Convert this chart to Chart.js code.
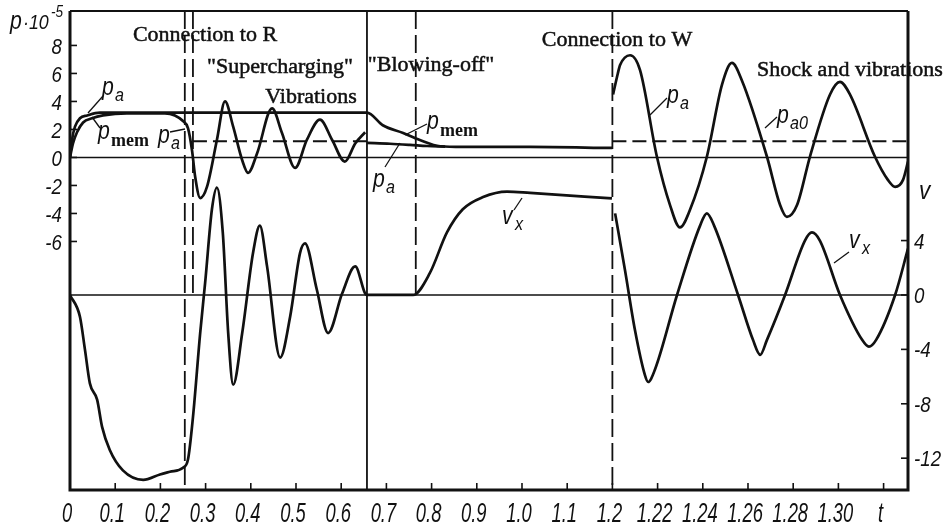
<!DOCTYPE html>
<html>
<head>
<meta charset="utf-8">
<script src="https://cdn.jsdelivr.net/npm/chart.js@4.4.1/dist/chart.umd.min.js"></script>
<style>
    html, body { margin: 0; padding: 0; background: #fff; }
</style>
</head>
<body>
<canvas id="chart" width="947" height="531"></canvas>
<script>
// time axis: 0..1.2 in steps of 0.1, then stretched 1.2..1.32 in steps of 0.02
const tickT = [0, 0.1, 0.2, 0.3, 0.4, 0.5, 0.6, 0.7, 0.8, 0.9, 1.0, 1.1, 1.2, 1.22, 1.24, 1.26, 1.28, 1.30, 1.32];
const tickLabels = ["0", "0.1", "0.2", "0.3", "0.4", "0.5", "0.6", "0.7", "0.8", "0.9", "1.0", "1.1", "1.2", "1.22", "1.24", "1.26", "1.28", "1.30", "t"];
const pTicks = [8, 6, 4, 2, 0, -2, -4, -6];
const vTicks = [4, 0, -4, -8, -12];

// upper pressure curve (p_mem), p*10^-5
const pMemT = [0, 0.0044, 0.011, 0.022, 0.038, 0.066, 0.657, 0.692, 0.737, 0.774, 0.819, 0.869, 1.018, 1.2];
const pMemP = [0, 1.25, 2.2, 2.8, 3.0, 3.2, 3.2, 2.3, 1.75, 1.25, 0.8, 0.75, 0.75, 0.68];

// pressure p_a (rise, supercharging vibrations, blowing-off, shock)
const pAT = [0, 0.0066, 0.0155, 0.029, 0.049, 0.073, 0.126, 0.21, 0.232, 0.25, 0.261, 0.27, 0.277, 0.288,
    0.303, 0.325, 0.343, 0.361, 0.381, 0.394, 0.414, 0.447, 0.469, 0.498, 0.524, 0.553, 0.58, 0.608, 0.631, 0.653,
    0.655,
    0.657, 0.708, 0.752, 0.79, 0.83,
    1.1,
    1.2003, 1.2024, 1.2034, 1.2078, 1.2122, 1.2197, 1.2255, 1.2299, 1.2343, 1.2418, 1.2485, 1.2529, 1.2573,
    1.2684, 1.2742, 1.2772, 1.2817, 1.2874, 1.2963, 1.3007, 1.3051, 1.3162, 1.3219, 1.3251, 1.3286, 1.3308];
const pAP = [0, 1.0, 1.8, 2.5, 2.8, 3.0, 3.15, 3.15, 3.0, 2.6, 2.1, 0.5, -1.4, -2.9,
    -2.1, 1.25, 4.0, 2.2, -0.2, -1.1, 0.3, 3.5, 1.75, -0.75, 1.25, 2.7, 1.25, -0.3, 1.0, 1.8,
    null,
    1.04, 0.98, 0.9, 0.82, 0.77,
    null,
    4.5, 6.0, 6.6, 7.3, 6.25, 0.05, -3.4, -5.0, -3.75, 0.05, 5.2, 6.75, 5.5,
    0.05, -3.4, -4.25, -3.4, 0.05, 4.5, 5.4, 4.5, 0.05, -1.6, -2.1, -1.6, -0.3];

// mean level p_a0 (dashed)
const pA0T = [0.272, 0.657, 0.9, 1.2, 1.3308];
const pA0P = [1.15, 1.15, null, 1.15, 1.15];

// velocity v_x
const vT = [0, 0.022, 0.033, 0.044, 0.06, 0.071, 0.088, 0.117, 0.162, 0.199, 0.221, 0.25, 0.261, 0.272, 0.288,
    0.299, 0.314, 0.325, 0.338, 0.35, 0.361, 0.381, 0.405, 0.42, 0.436, 0.465, 0.487, 0.509, 0.52, 0.546, 0.571,
    0.602, 0.631, 0.653, 0.657, 0.759, 0.796, 0.834, 0.869, 0.914, 0.967, 1.018, 1.199,
    1.2,
    1.2012, 1.2056, 1.21, 1.2144, 1.2158, 1.2188, 1.2286, 1.2388, 1.2418, 1.245, 1.2556, 1.2622, 1.2654, 1.2684,
    1.2764, 1.2852, 1.2883, 1.2918, 1.3007, 1.3105, 1.3135, 1.3167, 1.3251, 1.3308];
const vV = [0, -1.6, -4.0, -6.5, -7.7, -9.7, -11.4, -12.9, -13.6, -13.2, -13.0, -12.7, -12.1, -9.0, -2.8,
    0.9, 6.3, 7.9, 4.6, -2.8, -6.6, -2.8, 3.1, 5.1, 2.1, -4.6, -1.6, 3.1, 3.8, 0.4, -2.8,
    0.1, 2.1, 0.1, 0, 0, 1.6, 4.6, 6.3, 7.2, 7.6, 7.5, 7.1,
    null,
    6.0, 1.8, -2.6, -5.9, -6.4, -5.5, 0, 5.1, 6.0, 5.1, 0, -3.3, -4.4, -3.3,
    0, 4.0, 4.6, 4.0, 0, -3.3, -3.8, -3.3, 0, 3.4];

// phase boundaries: connection to R, supercharging, blowing-off, return, connection to W
const phaseT = [0.254, 0.272, 0.657, 0.765, 1.2];

const ink = "#111";
const sans = "'Liberation Sans', Arimo, Arial, sans-serif";
const serif = "'Liberation Serif', 'DejaVu Serif', serif";

// position on the drawn time axis (the last part is stretched x5)
function pos(t) {
    return t <= 1.2 ? t * 10 : 12 + (t - 1.2) * 50;
}
function series(ts, ys) {
    return ts.map((t, i) => ({ x: pos(t), y: ys[i] }));
}

const phaseStyle = [
    { dash: [18, 6], toV0: false },
    { dash: [18, 6], toV0: true },
    { dash: [], toV0: false },
    { dash: [18, 6], toV0: true },
    { dash: [18, 6], toV0: false },
];

const headings = [
    { s: "Connection to R", x: 205, y: 35 },
    { s: "\"Supercharging\"", x: 280, y: 67 },
    { s: "Vibrations", x: 311, y: 97 },
    { s: "\"Blowing-off\"", x: 431, y: 65 },
    { s: "Connection to W", x: 617, y: 40 },
    { s: "Shock and vibrations", x: 850, y: 70 },
];

const symbols = [
    { b: "p", s: "a", x: 102, y: 95 },
    { b: "p", s: "mem", x: 98, y: 139 },
    { b: "p", s: "a", x: 158, y: 143 },
    { b: "p", s: "mem", x: 427, y: 129 },
    { b: "p", s: "a", x: 373, y: 187 },
    { b: "v", s: "x", x: 502, y: 224 },
    { b: "p", s: "a", x: 667, y: 103 },
    { b: "p", s: "a0", x: 777, y: 123 },
    { b: "v", s: "x", x: 849, y: 248 },
];

const leaders = [
    [88, 113, 103, 96], [92, 117, 100, 128], [170, 132, 185, 129], [405, 135, 427, 124],
    [385, 167, 400, 143], [514, 210, 522, 198], [650, 115, 667, 98], [765, 128, 777, 117], [834, 263, 849, 252],
];

// condensed italic text, like the drafting font of the original
function narrowText(ctx, text, x, y, size, sx, align) {
    ctx.save();
    ctx.font = "italic " + size + "px " + sans;
    ctx.textAlign = align;
    ctx.textBaseline = "alphabetic";
    ctx.translate(x, y);
    ctx.scale(sx, 1);
    ctx.fillText(text, 0, 0);
    ctx.restore();
}

const decor = {
    id: "decor",
    beforeDatasetsDraw(chart) {
        const { ctx, chartArea: a, scales } = chart;
        ctx.save();
        ctx.strokeStyle = ink;
        ctx.lineWidth = 1.6;
        [scales.p.getPixelForValue(0), scales.v.getPixelForValue(0)].forEach((y) => {
            ctx.beginPath();
            ctx.moveTo(a.left, y);
            ctx.lineTo(a.right, y);
            ctx.stroke();
        });
        phaseT.forEach((t, i) => {
            const x = scales.x.getPixelForValue(pos(t));
            const st = phaseStyle[i];
            ctx.setLineDash(st.dash);
            ctx.lineWidth = 1.8;
            ctx.beginPath();
            ctx.moveTo(x, a.top);
            ctx.lineTo(x, st.toV0 ? scales.v.getPixelForValue(0) : a.bottom);
            ctx.stroke();
        });
        ctx.restore();
    },
    afterDatasetsDraw(chart) {
        const { ctx, chartArea: a, scales } = chart;
        ctx.save();
        ctx.strokeStyle = ink;
        ctx.fillStyle = ink;

        // frame
        ctx.lineWidth = 2;
        ctx.beginPath();
        ctx.moveTo(a.left, a.top);
        ctx.lineTo(a.right, a.top);
        ctx.stroke();
        ctx.lineWidth = 3;
        ctx.beginPath();
        ctx.moveTo(a.left, a.top);
        ctx.lineTo(a.left, a.bottom);
        ctx.lineTo(a.right, a.bottom);
        ctx.lineTo(a.right, a.top);
        ctx.stroke();

        // inward tick marks and labels
        ctx.lineWidth = 1.6;
        scales.x.ticks.forEach((tk, i) => {
            const x = scales.x.getPixelForValue(tk.value);
            ctx.beginPath();
            ctx.moveTo(x, a.bottom);
            ctx.lineTo(x, a.bottom - 7);
            ctx.stroke();
            narrowText(ctx, tickLabels[i], x - 3, a.bottom + 32, 27, 0.68, "center");
        });
        scales.p.ticks.forEach((tk) => {
            const y = scales.p.getPixelForValue(tk.value);
            ctx.beginPath();
            ctx.moveTo(a.left, y);
            ctx.lineTo(a.left + 7, y);
            ctx.stroke();
            narrowText(ctx, String(tk.value), a.left - 8, y + 9, 22, 0.85, "right");
        });
        scales.v.ticks.forEach((tk) => {
            const y = scales.v.getPixelForValue(tk.value);
            ctx.beginPath();
            ctx.moveTo(a.right - 7, y);
            ctx.lineTo(a.right, y);
            ctx.stroke();
            narrowText(ctx, String(tk.value), a.right + 6, y + 8, 22, 0.85, "left");
        });

        // leader lines
        ctx.lineWidth = 1.3;
        leaders.forEach(([x1, y1, x2, y2]) => {
            ctx.beginPath();
            ctx.moveTo(x1, y1);
            ctx.lineTo(x2, y2);
            ctx.stroke();
        });

        // phase headings
        ctx.font = "22px " + serif;
        ctx.textAlign = "center";
        ctx.textBaseline = "middle";
        ctx.lineWidth = 0.5;
        headings.forEach((h) => {
            ctx.fillText(h.s, h.x, h.y);
            ctx.strokeText(h.s, h.x, h.y);
        });

        // curve symbols with subscripts
        ctx.textAlign = "left";
        ctx.textBaseline = "alphabetic";
        symbols.forEach((sy) => {
            narrowText(ctx, sy.b, sy.x, sy.y, 25, 0.85, "left");
            const w = 12;
            if (sy.s === "mem") {
                ctx.font = "bold 18px " + serif;
                ctx.fillText(sy.s, sy.x + w + 1, sy.y + 7);
            } else {
                narrowText(ctx, sy.s, sy.x + w + 1, sy.y + 6, 19, 0.85, "left");
            }
        });

        // axis titles
        narrowText(ctx, "p", 10, 29, 25, 0.85, "left");
        narrowText(ctx, "\u00b710", 23, 29, 21, 0.85, "left");
        narrowText(ctx, "-5", 51, 17, 16, 0.85, "left");
        narrowText(ctx, "v", 919, 199, 25, 0.9, "left");
        ctx.restore();
    },
};

const lineStyle = {
    borderColor: ink,
    borderWidth: 2.7,
    pointRadius: 0,
    cubicInterpolationMode: "monotone",
    spanGaps: false,
};

// fixed frame: the scales get exact sizes and no extra label padding
function fixSize(w, h) {
    return (s) => {
        if (w !== null) s.width = w;
        if (h !== null) s.height = h;
        s.paddingTop = 0;
        s.paddingBottom = 0;
        s.paddingLeft = 0;
        s.paddingRight = 0;
    };
}

new Chart(document.getElementById("chart"), {
    type: "line",
    data: {
        datasets: [
            { label: "p_mem", data: series(pMemT, pMemP), yAxisID: "p", ...lineStyle },
            { label: "p_a", data: series(pAT, pAP), yAxisID: "p", ...lineStyle },
            { label: "p_a0", data: series(pA0T, pA0P), yAxisID: "p", ...lineStyle, borderWidth: 2, borderDash: [14, 6], cubicInterpolationMode: "default", tension: 0 },
            { label: "v_x", data: series(vT, vV), yAxisID: "v", ...lineStyle },
        ],
    },
    options: {
        responsive: false,
        animation: false,
        events: [],
        layout: { padding: { top: 11, left: 0, right: 0, bottom: 0 } },
        plugins: { legend: { display: false }, tooltip: { enabled: false } },
        scales: {
            x: {
                type: "linear",
                min: 0,
                max: pos(1.3308),
                grid: { display: false, drawTicks: false },
                border: { display: false },
                afterBuildTicks: (s) => { s.ticks = tickT.map((t) => ({ value: pos(t) })); },
                afterFit: fixSize(null, 41),
                ticks: { display: false, autoSkip: false },
            },
            p: {
                type: "linear",
                position: "left",
                min: -23.75,
                max: 10.46,
                grid: { display: false, drawTicks: false },
                border: { display: false },
                afterBuildTicks: (s) => { s.ticks = pTicks.map((v) => ({ value: v })); },
                afterFit: fixSize(70, null),
                ticks: { display: false },
            },
            v: {
                type: "linear",
                position: "right",
                min: -14.34,
                max: 20.88,
                grid: { display: false, drawTicks: false },
                border: { display: false },
                afterBuildTicks: (s) => { s.ticks = vTicks.map((v) => ({ value: v })); },
                afterFit: fixSize(39, null),
                ticks: { display: false },
            },
        },
    },
    plugins: [decor],
});
</script>
</body>
</html>
